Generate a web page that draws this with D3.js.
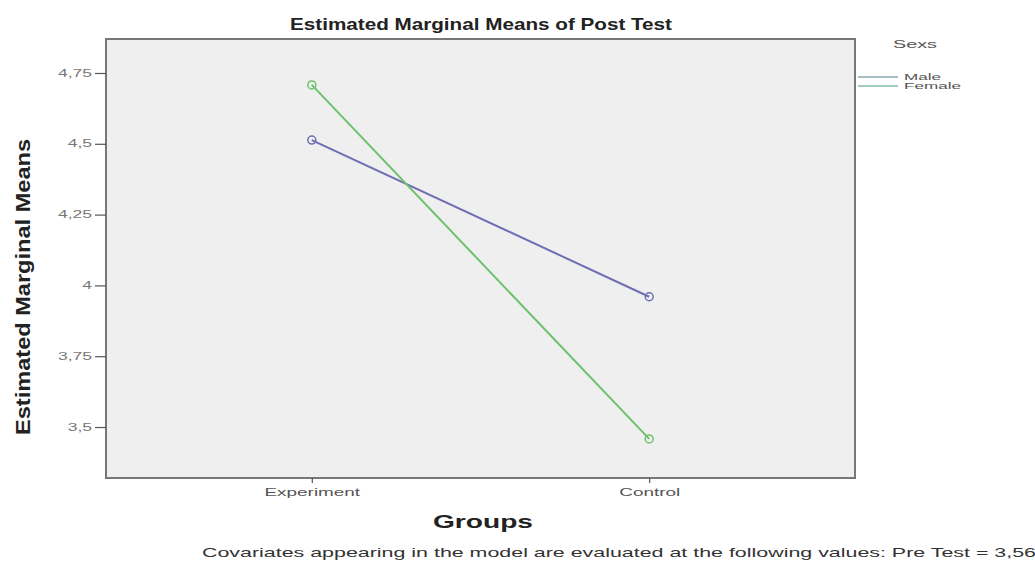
<!DOCTYPE html>
<html>
<head>
<meta charset="utf-8">
<script src="https://cdn.jsdelivr.net/npm/d3@7"></script>
<style>
  html, body { margin: 0; padding: 0; background: #fff; }
  svg { display: block; }
</style>
</head>
<body>
<svg id="chart" width="1035" height="565"></svg>
<script>
// ---- data ----
const groups = ["Experiment", "Control"];
const seriesNames = ["Male", "Female"];
const maleValues = [4.513, 3.96];
const femaleValues = [4.708, 3.458];
const yTicks = [3.5, 3.75, 4, 4.25, 4.5, 4.75];
const yTickLabels = ["3,5", "3,75", "4", "4,25", "4,5", "4,75"];
const colors = ["#6e6eb4", "#6cc26c"];

(function () {
const series = [
  { name: seriesNames[0], values: maleValues, color: colors[0] },
  { name: seriesNames[1], values: femaleValues, color: colors[1] }
];
const FONT = "Arial, 'Liberation Sans', sans-serif";

// widen text horizontally like the reference image
function stretch(sel, factor) {
  sel.each(function () {
    const w = this.getComputedTextLength();
    d3.select(this).attr("textLength", w * factor).attr("lengthAdjust", "spacingAndGlyphs");
  });
}

const svg = d3.select("#chart");
const pLeft = 106, pRight = 855, pTop = 39, pBottom = 478;

const x = d3.scalePoint().domain(groups).range([pLeft, pRight]).padding(0.61);
const y = d3.scaleLinear().domain([3.32, 4.87]).range([pBottom, pTop]);

// plot background
svg.append("rect").attr("x", pLeft).attr("y", pTop)
  .attr("width", pRight - pLeft).attr("height", pBottom - pTop)
  .attr("fill", "#efefef");

// lines
const line = d3.line().x((d, i) => x(groups[i])).y(d => y(d));
series.forEach(s => {
  svg.append("path").datum(s.values)
    .attr("d", line).attr("fill", "none")
    .attr("stroke", s.color).attr("stroke-width", 2);
  svg.selectAll(null).data(s.values).enter().append("circle")
    .attr("cx", (d, i) => x(groups[i])).attr("cy", d => y(d))
    .attr("r", 4).attr("fill", "none")
    .attr("stroke", s.color).attr("stroke-width", 1.5);
});

// frame
svg.append("rect").attr("x", pLeft).attr("y", pTop)
  .attr("width", pRight - pLeft).attr("height", pBottom - pTop)
  .attr("fill", "none").attr("stroke", "#777").attr("stroke-width", 2);

// y axis
const yAxis = d3.axisLeft(y).tickValues(yTicks)
  .tickFormat(d => yTickLabels[yTicks.indexOf(d)])
  .tickSize(11).tickPadding(3);
const gy = svg.append("g").attr("transform", `translate(${pLeft},0)`).call(yAxis);
gy.select(".domain").remove();
gy.selectAll(".tick line").attr("stroke", "#555").attr("stroke-width", 1.2);
gy.selectAll(".tick text").attr("fill", "#777")
  .style("font-family", FONT).style("font-size", "10px");
stretch(gy.selectAll(".tick text"), 1.75);

// x axis
const xAxis = d3.axisBottom(x).tickSize(5).tickPadding(6);
const gx = svg.append("g").attr("transform", `translate(0,${pBottom})`).call(xAxis);
gx.select(".domain").remove();
gx.selectAll(".tick line").attr("stroke", "#555").attr("stroke-width", 1.2);
gx.selectAll(".tick text").attr("fill", "#555")
  .style("font-family", FONT).style("font-size", "10.5px");
stretch(gx.selectAll(".tick text"), 1.8);

// title
svg.append("text").attr("x", 481).attr("y", 30).attr("text-anchor", "middle")
  .style("font-family", FONT)
  .style("font-size", "17px").style("font-weight", "bold").attr("fill", "#222")
  .attr("textLength", 382).attr("lengthAdjust", "spacingAndGlyphs")
  .text("Estimated Marginal Means of Post Test");

// x label
svg.append("text").attr("x", 483).attr("y", 528).attr("text-anchor", "middle")
  .style("font-family", FONT)
  .style("font-size", "18px").style("font-weight", "bold").attr("fill", "#222")
  .attr("textLength", 100).attr("lengthAdjust", "spacingAndGlyphs")
  .text("Groups");

// y label
svg.append("text").attr("transform", "translate(30,287) rotate(-90)")
  .attr("text-anchor", "middle")
  .style("font-family", FONT)
  .style("font-size", "20px").style("font-weight", "bold").attr("fill", "#222")
  .attr("textLength", 296).attr("lengthAdjust", "spacingAndGlyphs")
  .text("Estimated Marginal Means");

// legend
const lt = svg.append("text").attr("x", 893).attr("y", 48)
  .style("font-family", FONT)
  .style("font-size", "11px").attr("fill", "#555")
  .text("Sexs");
stretch(lt, 1.8);
const legendColors = ["#8aa6b0", "#7fbcb0"];
series.forEach((s, i) => {
  const ly = 77 + i * 9;
  svg.append("line").attr("x1", 858).attr("x2", 898).attr("y1", ly).attr("y2", ly)
    .attr("stroke", legendColors[i]).attr("stroke-width", 1.5);
  const t = svg.append("text").attr("x", 904).attr("y", ly + 3)
    .style("font-family", FONT)
    .style("font-size", "9px").attr("fill", "#555")
    .text(s.name);
  stretch(t, 1.9);
});

// footnote
svg.append("text").attr("x", 202).attr("y", 557)
  .style("font-family", FONT)
  .style("font-size", "13px").attr("fill", "#333")
  .attr("textLength", 834).attr("lengthAdjust", "spacingAndGlyphs")
  .text("Covariates appearing in the model are evaluated at the following values: Pre Test = 3,56");
})();
</script>
</body>
</html>
